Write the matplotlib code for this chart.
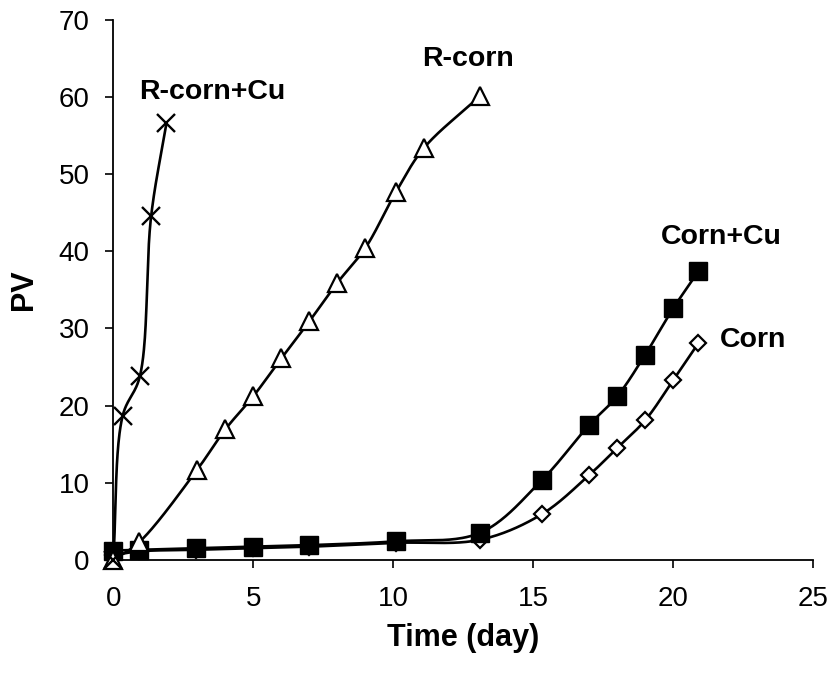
import numpy as np
import matplotlib
matplotlib.use("Agg")
import matplotlib.pyplot as plt

plt.rcParams['font.family'] = ['Liberation Sans', 'DejaVu Sans']

# PV over time for the four samples
rcu_day = [0, 0.33, 0.95, 1.35, 1.9]
rcu_pv = [0, 18.6, 23.8, 44.5, 56.6]

rcorn_day = [0, 0.93, 3, 4, 5, 6, 7, 8, 9, 10.1, 11.1, 13.1]
rcorn_pv = [0, 2.3, 11.7, 16.9, 21.2, 26.1, 30.9, 35.9, 40.4, 47.7, 53.4, 60.1]

corncu_day = [0, 0.93, 2.95, 5, 7, 10.1, 13.1, 15.3, 17.0, 18.0, 19.0, 20.0, 20.9]
corncu_pv = [1.2, 1.3, 1.5, 1.7, 1.9, 2.4, 3.5, 10.3, 17.5, 21.2, 26.6, 32.6, 37.4]

corn_day = [0, 0.93, 2.95, 5, 7, 10.1, 13.1, 15.3, 17.0, 18.0, 19.0, 20.0, 20.9]
corn_pv = [0.6, 1.1, 1.3, 1.5, 1.7, 2.2, 2.6, 5.9, 11.0, 14.5, 18.1, 23.3, 28.1]

XMAX, YMAX = 25, 70


def smooth(xs, ys, n=40, alpha=0.5):
    """Centripetal Catmull-Rom curve through the points (computed in axis-scaled space)."""
    sx, sy = 28.0, 7.71
    p = np.column_stack([np.asarray(xs) * sx, np.asarray(ys) * sy]).astype(float)
    p = np.vstack([2 * p[0] - p[1], p, 2 * p[-1] - p[-2]])
    out = []
    for i in range(1, len(p) - 2):
        p0, p1, p2, p3 = p[i - 1], p[i], p[i + 1], p[i + 2]
        t0 = 0.0
        t1 = t0 + max(np.linalg.norm(p1 - p0), 1e-6) ** alpha
        t2 = t1 + max(np.linalg.norm(p2 - p1), 1e-6) ** alpha
        t3 = t2 + max(np.linalg.norm(p3 - p2), 1e-6) ** alpha
        t = np.linspace(t1, t2, n)[:, None]
        a1 = (t1 - t) / (t1 - t0) * p0 + (t - t0) / (t1 - t0) * p1
        a2 = (t2 - t) / (t2 - t1) * p1 + (t - t1) / (t2 - t1) * p2
        a3 = (t3 - t) / (t3 - t2) * p2 + (t - t2) / (t3 - t2) * p3
        b1 = (t2 - t) / (t2 - t0) * a1 + (t - t0) / (t2 - t0) * a2
        b2 = (t3 - t) / (t3 - t1) * a2 + (t - t1) / (t3 - t1) * a3
        c = (t2 - t) / (t2 - t1) * b1 + (t - t1) / (t2 - t1) * b2
        out.append(c)
    c = np.vstack(out)
    return c[:, 0] / sx, c[:, 1] / sy


fig = plt.figure(figsize=(8.33, 6.77), dpi=100)
ax = fig.add_axes([0.1360, 0.1731, 0.8403, 0.7977])

lw = 1.9
series = [
    (corn_day, corn_pv, dict(marker='D', ms=8.5, mfc='white', mec='black', mew=1.6)),
    (corncu_day, corncu_pv, dict(marker='s', ms=13, mfc='black', mec='black')),
    (rcorn_day, rcorn_pv, dict(marker='^', ms=12.5, mfc='white', mec='black', mew=1.6)),
    (rcu_day, rcu_pv, dict(marker='x', ms=12.5, mec='black', mew=1.7)),
]
for xs, ys, mk in series:
    cx, cy = smooth(xs, ys)
    ax.plot(cx, cy, color='black', lw=lw, zorder=2, clip_on=False)
    ax.plot(xs, ys, ls='none', zorder=3, clip_on=False, **mk)

lab = dict(fontsize=20.5, fontweight='bold', ha='center', va='center')
ax.text(3.55, 60.6, 'R-corn+Cu', **lab)
ax.text(12.67, 64.9, 'R-corn', **lab)
ax.text(21.7, 41.8, 'Corn+Cu', **lab)
ax.text(22.85, 28.5, 'Corn', **lab)

ax.set_xlim(0, XMAX)
ax.set_ylim(0, YMAX)
ax.set_xticks(range(0, XMAX + 1, 5))
ax.set_yticks(range(0, YMAX + 1, 10))
ax.tick_params(labelsize=20, direction='out', length=6, width=1.2)
ax.tick_params(axis='x', pad=13)
ax.tick_params(axis='y', pad=11)
ax.set_xlabel('Time (day)', fontsize=22, fontweight='bold', labelpad=8)
ax.set_ylabel('PV', fontsize=22, fontweight='bold', labelpad=14)
for s in ['top', 'right']:
    ax.spines[s].set_visible(False)
for s in ['left', 'bottom']:
    ax.spines[s].set_linewidth(1.3)
ax.patch.set_visible(False)

fig.savefig('out.png', dpi=100)
